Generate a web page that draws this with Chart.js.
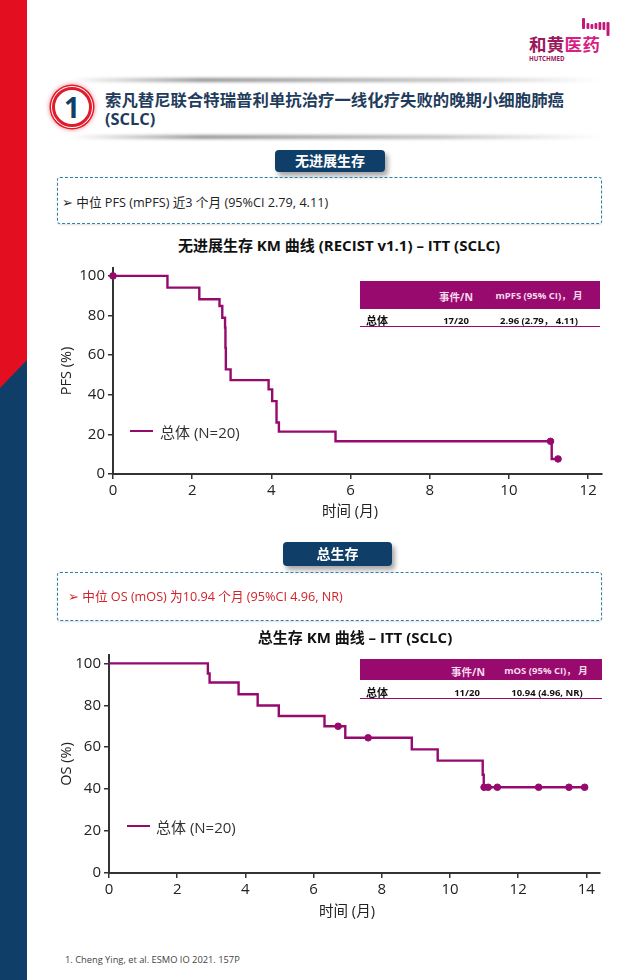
<!DOCTYPE html>
<html lang="zh">
<head>
<meta charset="UTF-8" />
<title>索凡替尼联合特瑞普利单抗 SCLC</title>
<style>
  html, body { margin: 0; padding: 0; background: #fff; }
  body {
    position: relative;
    width: 640px;
    height: 980px;
    overflow: hidden;
    font-family: 'Open Sans', 'Noto Sans CJK SC', sans-serif;
    color: #222;
  }
  .abs { position: absolute; white-space: nowrap; }
  canvas { position: absolute; }

  .rule { position: absolute; left: 70px; width: 530px; height: 4px; background: linear-gradient(90deg, rgba(120,120,120,0), rgba(90,90,90,.65) 25%, rgba(120,120,120,.45) 70%, rgba(120,120,120,0)); filter: blur(1.5px); }
  .circle { position: absolute; left: 52px; top: 87px; width: 34px; height: 34px; border-radius: 50%; background: #fff; border: 3px solid #e11b2b; box-shadow: 0 0 0 1px #fff, 0 0 0 2.5px #e11b2b, 0 0 4px 3px rgba(200,30,40,.45); color: #123f66; font: 700 28px/34px 'Open Sans', sans-serif; text-align: center; }
  .heading { left: 105px; color: #1f3c5c; font-weight: 700; font-size: 16.4px; line-height: 19px; }
  .badge { position: absolute; background: #0f3f68; color: #fff; border-radius: 4px; font-weight: 700; font-size: 14px; text-align: center; box-shadow: 3px 4px 5px rgba(0,0,0,.35); }
  .note { position: absolute; left: 57px; width: 545px; border: 1px dashed #2f7fa8; border-radius: 3px; box-sizing: border-box; box-shadow: 0 1px 2px rgba(60,90,110,.18); }
  .note-text { font-size: 12.65px; line-height: 16px; }
  .chart-title { font-weight: 700; font-size: 15px; color: #111; transform: translateX(-50%); line-height: 18px; }
  .x-title { font-size: 14.5px; color: #222; transform: translate(-50%, -50%); }

  .t-head { position: absolute; background: #990a6f; }
  .t-line { position: absolute; height: 1px; background: #990a6f; }
  .cell { transform: translate(-50%, -50%); font-size: 9.5px; font-weight: 700; color: #111; }
  .cell.w { color: #f6dcec; }
  .cell.big { font-size: 10.5px; }
  .cell.l { transform: translateY(-50%); font-size: 11px; }

  .legend-line { position: absolute; width: 23px; height: 2px; background: #960a6e; }
  .legend-text { font-size: 15px; color: #333; transform: translateY(-50%); }
</style>
</head>
<body>
<!-- side band -->
<svg class="abs" style="left:0;top:0" width="27" height="980">
  <rect x="0" y="0" width="27" height="980" fill="#0f3f68" />
  <polygon points="0,0 27,0 27,360 0,388" fill="#e30f20" />
</svg>

<!-- logo -->
<svg class="abs" style="left:580px;top:16px" width="32" height="22">
  <g fill="#c2187a">
    <rect x="2" y="2" width="3" height="11" rx="1" />
    <rect x="6.5" y="7" width="2.8" height="6" rx="1" />
    <rect x="10.5" y="8" width="2.8" height="5" rx="1" />
    <rect x="14.5" y="7" width="2.8" height="6" rx="1" />
    <rect x="18.5" y="6" width="2.8" height="8" rx="1" />
    <rect x="22.5" y="6" width="2.8" height="8" rx="1" />
    <rect x="26.5" y="6" width="3" height="14" rx="1" />
  </g>
</svg>
<div class="abs" style="left:529px;top:34px;font-size:17.5px;font-weight:700;line-height:20px;letter-spacing:.3px"><span style="color:#9c1a5c">和黄</span><span style="color:#d81f84">医药</span></div>
<div class="abs" style="left:529px;top:54px;font-size:6.2px;font-weight:700;color:#9c1a5c;line-height:9px">HUTCHMED</div>

<!-- section heading -->
<div class="rule" style="top:78px"></div>
<div class="rule" style="top:135px"></div>
<div class="circle">1</div>
<div class="abs heading" style="top:90px">索凡替尼联合特瑞普利单抗治疗一线化疗失败的晚期小细胞肺癌</div>
<div class="abs heading" style="top:109px">(SCLC)</div>

<!-- PFS -->
<div class="badge" style="left:275px;top:150px;width:110px;height:22px;line-height:22px">无进展生存</div>
<div class="note" style="top:177px;height:47px"></div>
<div class="abs note-text" style="left:62px;top:194px">➢ 中位 PFS (mPFS) 近3 个月 (95%CI 2.79, 4.11)</div>
<div class="abs chart-title" style="left:339px;top:236px">无进展生存 KM 曲线 (RECIST v1.1) – ITT (SCLC)</div>
<canvas id="pfsChart" style="left:50px;top:260px;width:560px;height:270px" role="img" aria-label="无进展生存 KM 曲线"></canvas>
<div class="abs x-title" style="left:350px;top:509px">时间 (月)</div>
<div class="t-head" style="left:360px;top:281px;width:240px;height:28px"></div>
<div class="abs cell w big" style="left:456px;top:296px">事件/N</div>
<div class="abs cell w" style="left:539px;top:295px">mPFS (95% CI)， 月</div>
<div class="abs cell l" style="left:366px;top:320px">总体</div>
<div class="abs cell" style="left:456px;top:320px">17/20</div>
<div class="abs cell" style="left:539px;top:320px">2.96 (2.79， 4.11)</div>
<div class="t-line" style="left:360px;top:326px;width:240px"></div>
<div class="legend-line" style="left:130px;top:430px"></div>
<div class="abs legend-text" style="left:160px;top:431px">总体 (N=20)</div>

<!-- OS -->
<div class="badge" style="left:283px;top:542px;width:109px;height:24px;line-height:24px">总生存</div>
<div class="note" style="top:572px;height:49px"></div>
<div class="abs note-text" style="left:68px;top:588px;color:#d2232a">➢ 中位 OS (mOS) 为10.94 个月 (95%CI 4.96, NR)</div>
<div class="abs chart-title" style="left:355px;top:628px">总生存 KM 曲线 – ITT (SCLC)</div>
<canvas id="osChart" style="left:50px;top:645px;width:560px;height:280px" role="img" aria-label="总生存 KM 曲线"></canvas>
<div class="abs x-title" style="left:347px;top:909px">时间 (月)</div>
<div class="t-head" style="left:360px;top:659px;width:242px;height:21px"></div>
<div class="abs cell w big" style="left:468px;top:671px">事件/N</div>
<div class="abs cell w" style="left:546px;top:670px">mOS (95% CI)， 月</div>
<div class="abs cell l" style="left:366px;top:692px">总体</div>
<div class="abs cell" style="left:467px;top:692px">11/20</div>
<div class="abs cell" style="left:547px;top:692px">10.94 (4.96, NR)</div>
<div class="t-line" style="left:360px;top:698px;width:242px"></div>
<div class="legend-line" style="left:127px;top:825px"></div>
<div class="abs legend-text" style="left:156px;top:826px">总体 (N=20)</div>

<div class="abs" style="left:65px;top:953px;font-size:9.3px;line-height:13px;color:#444">1. Cheng Ying, et al. ESMO IO 2021. 157P</div>

<script src="https://cdn.jsdelivr.net/npm/chart.js"></script>
<script>
  const seriesLabel = '总体 (N=20)';
  const percentTicks = [0, 20, 40, 60, 80, 100];

  const pfsMonths  = [0, 1.375, 2.18, 2.69, 2.76, 2.83, 2.84, 2.85, 2.97, 3.93, 4.02, 4.13, 4.19, 5.62, 11.08, 11.24];
  const pfsPercent = [100, 94.1, 88.2, 84.8, 78.9, 73.9, 63.7, 52.8, 47.4, 42.7, 36.8, 26, 21.4, 16.5, 7.6, 7.6];
  const pfsCensorMonths  = [0, 11.05, 11.24];
  const pfsCensorPercent = [100, 16.5, 7.6];
  const pfsMonthTicks = [0, 2, 4, 6, 8, 10, 12];

  const osMonths  = [0, 2.9, 2.95, 3.8, 4.36, 4.98, 6.32, 6.93, 8.88, 9.64, 10.96, 10.99, 13.95];
  const osPercent = [100, 95.2, 90.9, 85.3, 79.9, 74.9, 70, 64.5, 59, 53.6, 46.9, 40.9, 40.9];
  const osCensorMonths  = [6.72, 7.6, 11.0, 11.12, 11.39, 12.6, 13.49, 13.95];
  const osCensorPercent = [70, 64.5, 40.9, 40.9, 40.9, 40.9, 40.9, 40.9];
  const osMonthTicks = [0, 2, 4, 6, 8, 10, 12, 14];

  const curveColor = '#960a6e';
  const axisColor = '#333';
  const fontFamily = "'Open Sans', 'Noto Sans CJK SC', sans-serif";

  function points(xs, ys) {
    return xs.map((x, i) => ({ x, y: ys[i] }));
  }

  function fixedTicks(values) {
    return scale => { scale.ticks = values.map(value => ({ value })); };
  }

  function drawKm(id, opts) {
    return new Chart(document.getElementById(id), {
      type: 'line',
      data: {
        datasets: [
          {
            label: seriesLabel,
            data: points(opts.months, opts.percent),
            stepped: true,
            borderColor: curveColor,
            borderWidth: 2.4,
            pointRadius: 0,
            fill: false
          },
          {
            label: seriesLabel + ' 删失',
            data: points(opts.censorMonths, opts.censorPercent),
            showLine: false,
            pointRadius: 3.3,
            pointBackgroundColor: curveColor,
            pointBorderColor: curveColor,
            clip: false
          }
        ]
      },
      options: {
        responsive: false,
        animation: false,
        layout: { padding: opts.padding, autoPadding: false },
        plugins: { legend: { display: false }, tooltip: { enabled: false } },
        scales: {
          x: {
            type: 'linear',
            min: 0,
            max: opts.xMax,
            afterBuildTicks: fixedTicks(opts.monthTicks),
            afterFit: scale => { scale.height = opts.xAxisHeight; },
            ticks: { color: '#222', font: { family: fontFamily, size: 15 }, maxRotation: 0, padding: 3, callback: v => v },
            grid: { drawOnChartArea: false, color: axisColor, lineWidth: 1.5, tickLength: 5 },
            border: { color: axisColor, width: 2 }
          },
          y: {
            min: 0,
            max: 104,
            afterBuildTicks: fixedTicks(percentTicks),
            // the top tick label would otherwise push the plot area down
            afterFit: scale => {
              scale.width = opts.yAxisWidth;
              scale.paddingTop = 0;
              scale.paddingBottom = 0;
            },
            ticks: { color: '#222', font: { family: fontFamily, size: 15 }, padding: 3, callback: v => v },
            grid: { drawOnChartArea: false, color: axisColor, lineWidth: 1.5, tickLength: 5 },
            border: { color: axisColor, width: 2 },
            title: { display: true, text: opts.yTitle, color: '#222', font: { family: fontFamily, size: 14.5 }, padding: { top: 0, bottom: 0 } }
          }
        }
      }
    });
  }

  function sizeCanvas(id) {
    const c = document.getElementById(id);
    c.width = parseInt(c.style.width);
    c.height = parseInt(c.style.height);
  }

  sizeCanvas('pfsChart');
  sizeCanvas('osChart');

  drawKm('pfsChart', {
    months: pfsMonths, percent: pfsPercent,
    censorMonths: pfsCensorMonths, censorPercent: pfsCensorPercent,
    monthTicks: pfsMonthTicks, xMax: 12.35, yTitle: 'PFS (%)',
    padding: { left: 8, right: 8, top: 8, bottom: 10 },
    yAxisWidth: 55, xAxisHeight: 46
  });

  drawKm('osChart', {
    months: osMonths, percent: osPercent,
    censorMonths: osCensorMonths, censorPercent: osCensorPercent,
    monthTicks: osMonthTicks, xMax: 14.4, yTitle: 'OS (%)',
    padding: { left: 8, right: 10, top: 10, bottom: 6 },
    yAxisWidth: 51, xAxisHeight: 46
  });
</script>
</body>
</html>
